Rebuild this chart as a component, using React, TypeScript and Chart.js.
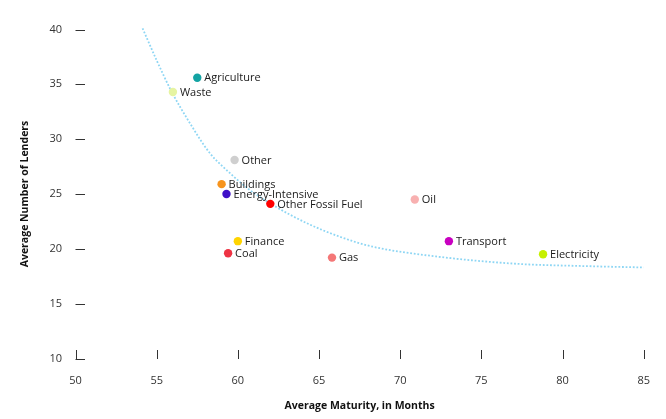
import React, { useEffect, useRef } from "react";
import { Chart, registerables } from "chart.js";

Chart.register(...registerables);

const sectors = [
  "Agriculture",
  "Waste",
  "Other",
  "Buildings",
  "Energy-Intensive",
  "Other Fossil Fuel",
  "Oil",
  "Finance",
  "Coal",
  "Gas",
  "Transport",
  "Electricity",
];
const maturity = [57.5, 56.0, 59.8, 59.0, 59.3, 62.0, 70.9, 60.0, 59.4, 65.8, 73.0, 78.8];
const lenders = [35.6, 34.3, 28.1, 25.9, 25.0, 24.1, 24.5, 20.7, 19.6, 19.2, 20.7, 19.5];
const sectorColors = [
  "#13a3a3",
  "#e6f4a2",
  "#cfcfcf",
  "#f7941d",
  "#3f10c8",
  "#ff0000",
  "#f8b0b0",
  "#ffd400",
  "#ee3344",
  "#f47777",
  "#c800c0",
  "#c6f000",
];

const trendX = [54.13, 54.99, 55.92, 57.04, 58.27, 59.5, 60.73, 62.15, 64.22, 66.27, 68.3, 72.3, 77.34, 81.03, 85.0];
const trendY = [40.11, 37.22, 34.33, 31.48, 28.74, 26.92, 25.37, 24.0, 22.36, 21.11, 20.2, 19.29, 18.62, 18.44, 18.3];

const xMin = 50;
const xMax = 85;
const xStep = 5;
const yMin = 10;
const yMax = 40;
const yStep = 5;

const xTitle = "Average Maturity, in Months";
const yTitle = "Average Number of Lenders";

const FONT = "'Open Sans', 'Noto Sans', sans-serif";

export default function App() {
  const ref = useRef<HTMLCanvasElement | null>(null);

  useEffect(() => {
    if (!ref.current) return;

    const tickMarks = {
      id: "tickMarks",
      afterDraw(chart: any) {
        const ctx = chart.ctx;
        const { left, bottom } = chart.chartArea;
        const xs = chart.scales.x;
        const ys = chart.scales.y;
        ctx.save();
        ctx.strokeStyle = "#333";
        ctx.lineWidth = 1;
        ctx.beginPath();
        ys.ticks.forEach((t: any) => {
          const py = Math.round(ys.getPixelForValue(t.value)) + 0.5;
          ctx.moveTo(left, py);
          ctx.lineTo(left + 9.5, py);
        });
        xs.ticks.forEach((t: any) => {
          const px = Math.round(xs.getPixelForValue(t.value)) + 0.5;
          ctx.moveTo(px, bottom + 0.5);
          ctx.lineTo(px, bottom - 8.5);
        });
        ctx.stroke();
        ctx.restore();
      },
    };

    const pointLabels = {
      id: "pointLabels",
      afterDatasetsDraw(chart: any) {
        const ctx = chart.ctx;
        const meta = chart.getDatasetMeta(1);
        ctx.save();
        ctx.font = `11px ${FONT}`;
        ctx.fillStyle = "#1a1a1a";
        ctx.textAlign = "left";
        ctx.textBaseline = "middle";
        meta.data.forEach((el: any, i: number) => {
          ctx.fillText(sectors[i], el.x + 7, el.y + 0.5);
        });
        ctx.restore();
      },
    };

    const chart = new Chart(ref.current, {
      type: "scatter",
      data: {
        datasets: [
          {
            type: "line",
            data: trendX.map((x, i) => ({ x, y: trendY[i] })),
            borderColor: "#8ed6f4",
            borderWidth: 1.8,
            borderDash: [1.8, 1.8],
            pointRadius: 0,
            fill: false,
            cubicInterpolationMode: "monotone",
            clip: false,
            order: 2,
          } as any,
          {
            data: maturity.map((x, i) => ({ x, y: lenders[i] })),
            backgroundColor: sectorColors,
            borderWidth: 0,
            pointRadius: 4.2,
            order: 1,
          },
        ],
      },
      options: {
        responsive: false,
        maintainAspectRatio: false,
        animation: false,
        layout: { padding: { top: 29.5, right: 21.5, left: 0, bottom: 0 } },
        plugins: {
          legend: { display: false },
          tooltip: { enabled: false },
        },
        scales: {
          x: {
            type: "linear",
            min: xMin,
            max: xMax,
            grid: { display: false, drawTicks: false },
            border: { display: false },
            ticks: {
              stepSize: xStep,
              padding: 16,
              color: "#333",
              font: { family: FONT, size: 11 },
            },
            title: {
              display: true,
              text: xTitle,
              color: "#111",
              font: { family: FONT, size: 10.5, weight: "bold" },
              padding: { top: 0, bottom: 7 },
            },
            afterFit(scale: any) {
              scale.height = 60.5;
            },
          },
          y: {
            type: "linear",
            min: yMin,
            max: yMax,
            grid: { display: false, drawTicks: false },
            border: { display: false },
            ticks: {
              stepSize: yStep,
              padding: 13.5,
              color: "#333",
              font: { family: FONT, size: 11 },
            },
            title: {
              display: true,
              text: yTitle,
              color: "#111",
              font: { family: FONT, size: 10.5, weight: "bold" },
              padding: { top: 19, bottom: 0 },
            },
            afterFit(scale: any) {
              scale.width = 75.5;
            },
          },
        },
      },
      plugins: [tickMarks, pointLabels],
    });

    return () => chart.destroy();
  }, []);

  return (
    <div style={{ position: "fixed", left: 0, top: 0, width: 666, height: 419, background: "#fff" }}>
      <canvas ref={ref} width={666} height={419} style={{ width: 666, height: 419, display: "block" }} />
    </div>
  );
}
